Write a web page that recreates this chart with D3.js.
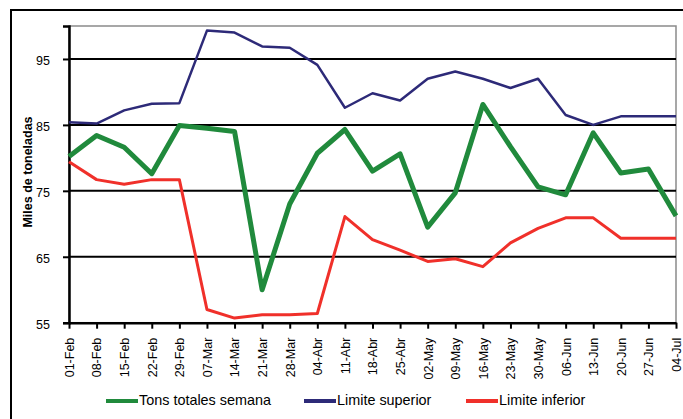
<!DOCTYPE html>
<html><head><meta charset="utf-8">
<script src="https://cdn.jsdelivr.net/npm/d3@7"></script>
<style>body{margin:0;background:#fff}svg{display:block}</style>
</head><body>
<script>
const categories = ["01-Feb","08-Feb","15-Feb","22-Feb","29-Feb","07-Mar","14-Mar","21-Mar","28-Mar","04-Abr","11-Abr","18-Abr","25-Abr","02-May","09-May","16-May","23-May","30-May","06-Jun","13-Jun","20-Jun","27-Jun","04-Jul"];
const tonsTotales = [80.2,83.4,81.6,77.6,84.9,84.5,84.0,60.0,73.0,80.7,84.3,78.0,80.6,69.5,74.7,88.1,81.7,75.6,74.4,83.8,77.7,78.3,71.2];
const limiteSuperior = [85.4,85.2,87.2,88.2,88.3,99.3,99.0,96.9,96.7,94.1,87.6,89.8,88.7,92.0,93.1,92.0,90.6,92.0,86.5,85.0,86.3,86.3,86.3];
const limiteInferior = [79.4,76.7,76.0,76.7,76.7,57.0,55.7,56.2,56.2,56.4,71.1,67.6,66.0,64.3,64.7,63.5,67.1,69.3,70.9,70.9,67.8,67.8,67.8];
const yTicks = [55,65,75,85,95];
const seriesNames = ["Tons totales semana","Limite superior","Limite inferior"];

const W=683,H=419;
const svg=d3.select("body").append("svg").attr("width",W).attr("height",H);
const font="Liberation Sans, Arial, sans-serif";
// outer border
svg.append("rect").attr("x",11).attr("y",10).attr("width",700).attr("height",430)
  .attr("fill","none").attr("stroke","#000").attr("stroke-width",2);

const L=69,R=676,T=26,B=322.7;
const x=d3.scalePoint().domain(categories).range([L,R]);
const y=d3.scaleLinear().domain([55,100]).range([B,T]);

// plot frame (gray)
svg.append("rect").attr("x",L).attr("y",T).attr("width",R-L).attr("height",B-T)
  .attr("fill","none").attr("stroke","#8a8a8a").attr("stroke-width",1.5);

// gridlines
svg.append("g").selectAll("line").data(yTicks.slice(1)).join("line")
  .attr("x1",L).attr("x2",R).attr("y1",d=>y(d)).attr("y2",d=>y(d))
  .attr("stroke","#000").attr("stroke-width",2);

// y axis
const ya=svg.append("g").attr("transform",`translate(${L},0)`)
  .call(d3.axisLeft(y).tickValues(yTicks).tickSize(6).tickPadding(13));
ya.select(".domain").attr("stroke","#000").attr("stroke-width",2.5);
ya.selectAll(".tick line").attr("stroke","#000").attr("stroke-width",2);
ya.selectAll("text").attr("font-family",font).attr("font-size",12.5).attr("fill","#000").attr("dy","0.45em");

// x axis
const xa=svg.append("g").attr("transform",`translate(0,${B})`)
  .call(d3.axisBottom(x).tickSize(6).tickSizeOuter(0));
xa.select(".domain").attr("stroke","#000").attr("stroke-width",2.5);
xa.selectAll(".tick line").attr("stroke","#000").attr("stroke-width",2);
xa.selectAll("text").attr("font-family",font).attr("font-size",12.5).attr("fill","#000")
  .attr("text-anchor","end").attr("dy","0.35em")
  .attr("transform","translate(0,15) rotate(-90)").attr("x",0).attr("y",0);

// y title
svg.append("text").attr("transform","translate(32,172) rotate(-90)")
  .attr("text-anchor","middle").attr("font-family",font).attr("font-size",12.5)
  .attr("font-weight","bold").text("Miles de toneladas");

const colors=["#208a3c","#2d2a78","#f0302a"];
const widths=[5,2.5,3];
const data=[tonsTotales,limiteSuperior,limiteInferior];
const line=d3.line().x((d,i)=>x(categories[i])).y(d=>y(d));
// draw order: red, blue, green on top
[2,1,0].forEach(k=>{
  svg.append("path").datum(data[k]).attr("d",line).attr("fill","none")
    .attr("stroke",colors[k]).attr("stroke-width",widths[k]).attr("stroke-linejoin","round");
});

// legend
const lx=[106,304,466];
seriesNames.forEach((n,k)=>{
  svg.append("line").attr("x1",lx[k]).attr("x2",lx[k]+32).attr("y1",401).attr("y2",401)
    .attr("stroke",colors[k]).attr("stroke-width",4);
  svg.append("text").attr("x",lx[k]+33).attr("y",400).attr("dy","0.35em")
    .attr("font-family",font).attr("font-size",14.4).attr("fill","#000").text(n);
});
</script>
</body></html>
